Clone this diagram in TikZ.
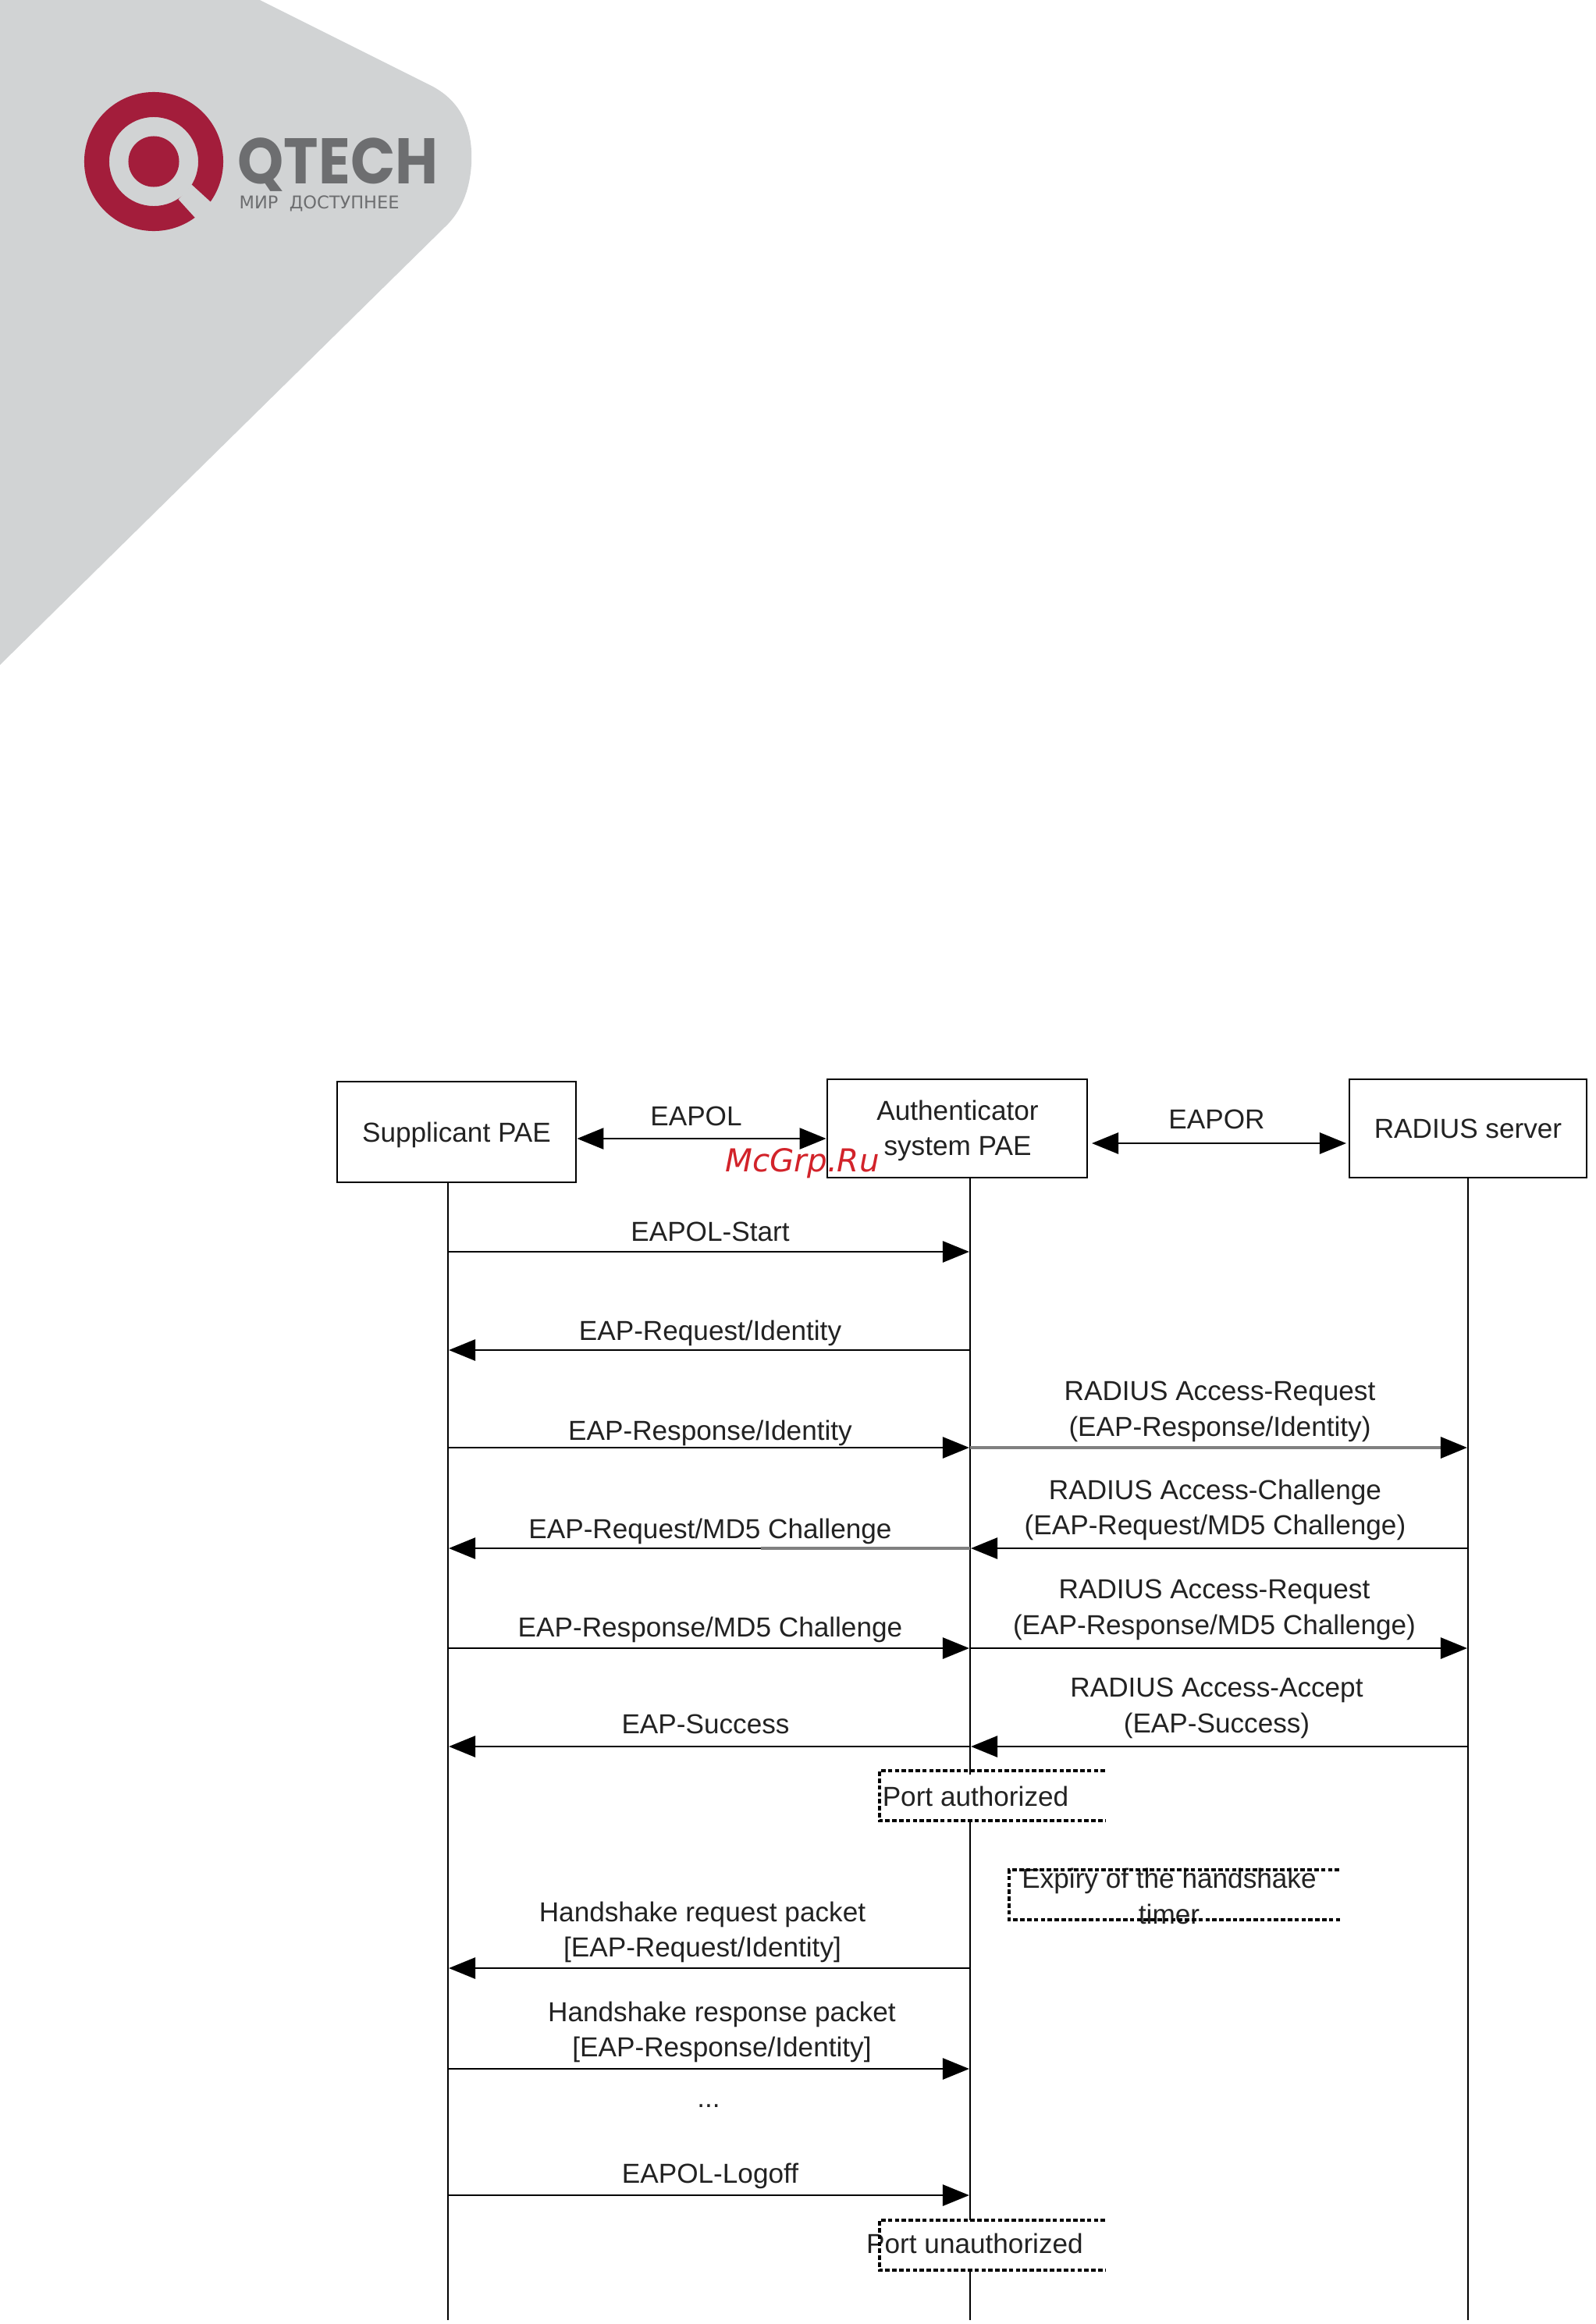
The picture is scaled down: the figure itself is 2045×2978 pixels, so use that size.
\documentclass[tikz,border=0pt]{standalone}
\usepackage{fontspec}
\usepackage{xcolor}
\setmainfont{Liberation Sans}
\newfontfamily\logofont{Poppins}
\newfontfamily\sloganfont{DejaVu Sans}
\newfontfamily\stampfont{DejaVu Sans}
\usetikzlibrary{arrows.meta,positioning,calc}
\definecolor{QtechGrey}{HTML}{D1D3D4}
\definecolor{QtechRed}{HTML}{A31D3B}
\definecolor{QtechText}{HTML}{6D6E70}
\definecolor{DiagramInk}{HTML}{222222}
\definecolor{StampRed}{HTML}{D2232A}
\definecolor{FadedLine}{HTML}{808080}

\begin{document}
\begin{tikzpicture}[
  x=0.01cm, y=-0.01cm,
  every node/.style={font=\fontsize{10}{13}\selectfont, text=DiagramInk, align=center, inner sep=0pt},
  party/.style={draw=black, line width=0.75pt, fill=white},
  lifeline/.style={draw=black, line width=0.75pt},
  arrow/.style={-{Triangle[length=3.4mm,width=2.7mm,color=black]}, draw=black, line width=0.8pt, shorten >=0.3pt},
  biarrow/.style={{Triangle[length=3.4mm,width=2.7mm]}-{Triangle[length=3.4mm,width=2.7mm]}, draw=black, line width=0.8pt},
  openbox/.style={draw=black, line width=0.95pt, dash pattern=on 1.6pt off 0.9pt}
]
\useasboundingbox (0,0) rectangle (2045,2978);

% corner and logo
\fill[QtechGrey] (0,0) -- (333,0) -- (551,109) .. controls (595,131) and (606,170) .. (604,210) .. controls (602,245) and (590,272) .. (571,290) -- (0,852) -- cycle;
\fill[QtechRed, even odd rule] (197,207) circle (0.89cm) (197,207) circle (0.57cm);
\fill[QtechRed] (197,207) circle (0.325cm);
\fill[QtechGrey] (245.5,236.5) -- (280,268) -- (260,290) -- (228.6,255.5) -- cycle;
\node[font=\logofont\bfseries\fontsize{23.5}{23.5}\selectfont, text=QtechText, anchor=west] (brand) at (304,211) {\scalebox{0.91}[1]{QTECH}};
\node[font=\sloganfont\fontsize{6.4}{6.4}\selectfont, text=QtechText, anchor=west] (slogan) at (306,261) {МИР\ \ ДОСТУПНЕЕ};

% parties
\node[party, minimum width=3.06cm, minimum height=1.29cm] (supplicant) at (585,1450.5) {};
\node[party, minimum width=3.33cm, minimum height=1.26cm] (authenticator) at (1226.5,1446) {};
\node[party, minimum width=3.04cm, minimum height=1.26cm] (radius) at (1881,1446) {RADIUS server};
\node (supplabel) at (585,1454) {Supplicant PAE};
\node (authlabel) at (1227,1449) {Authenticator\\system PAE};

\node (eapol) at (892,1430) {EAPOL};
\node (eapor) at (1559,1434) {EAPOR};
\coordinate (eapolline) at (0,1459);
\draw[biarrow] (supplicant.east |- eapolline) -- (authenticator.west |- eapolline);
\coordinate (eaporl) at (1399,1465);
\coordinate (eaporr) at (1725,1465);
\draw[biarrow] (eaporl) -- (eaporr);

% lifelines
\coordinate (suptop) at (574,1515);
\coordinate (supend) at (574,2973);
\coordinate (authtop) at (1243,1509);
\coordinate (authend) at (1243,2973);
\coordinate (radtop) at (1881,1509);
\coordinate (radend) at (1881,2973);
\coordinate (authA) at (1243,2274);
\coordinate (authB) at (1243,2333);
\coordinate (authC) at (1243,2845);
\coordinate (authD) at (1243,2909);
\draw[lifeline] (suptop) -- (supend);
\draw[lifeline] (radtop) -- (radend);
\draw[lifeline] (authtop) -- (authA);
\draw[lifeline] (authB) -- (authC);
\draw[lifeline] (authD) -- (authend);

% message levels
\coordinate (start) at (0,1604);
\coordinate (reqid) at (0,1730);
\coordinate (respid) at (0,1855);
\coordinate (reqmd) at (0,1984);
\coordinate (respmd) at (0,2112);
\coordinate (success) at (0,2238);
\coordinate (hsreq) at (0,2522);
\coordinate (hsresp) at (0,2651);
\coordinate (logoff) at (0,2813);
\coordinate (fadeend) at (975,1984);

\draw[arrow] (suptop |- start) -- (authtop |- start);
\draw[arrow] (authtop |- reqid) -- (suptop |- reqid);
\draw[arrow] (suptop |- respid) -- (authtop |- respid);
\draw[arrow, draw=FadedLine, line width=1pt] (authtop |- respid) -- (radtop |- respid);
\draw[arrow] (radtop |- reqmd) -- (authtop |- reqmd);
\draw[arrow] (authtop |- reqmd) -- (suptop |- reqmd);
\draw[draw=FadedLine, line width=1pt] (authtop |- reqmd) -- (fadeend);
\draw[arrow] (suptop |- respmd) -- (authtop |- respmd);
\draw[arrow] (authtop |- respmd) -- (radtop |- respmd);
\draw[arrow] (radtop |- success) -- (authtop |- success);
\draw[arrow] (authtop |- success) -- (suptop |- success);
\draw[arrow] (authtop |- hsreq) -- (suptop |- hsreq);
\draw[arrow] (suptop |- hsresp) -- (authtop |- hsresp);
\draw[arrow] (suptop |- logoff) -- (authtop |- logoff);

% message labels
\node (startlabel) at (910,1578) {EAPOL-Start};
\node (reqidlabel) at (910,1708) {EAP-Request/Identity};
\node (respidlabel) at (910,1836) {EAP-Response/Identity};
\node (radreqlabel) at (1563,1809) {RADIUS Access-Request\\(EAP-Response/Identity)};
\node (reqmdlabel) at (910,1962) {EAP-Request/MD5 Challenge};
\node (radchallabel) at (1557,1935) {RADIUS Access-Challenge\\(EAP-Request/MD5 Challenge)};
\node (respmdlabel) at (910,2088) {EAP-Response/MD5 Challenge};
\node (radreq2label) at (1556,2063) {RADIUS Access-Request\\(EAP-Response/MD5 Challenge)};
\node (radacclabel) at (1559,2189) {RADIUS Access-Accept\\(EAP-Success)};
\node (successlabel) at (904,2209) {EAP-Success};
\node (hsreqlabel) at (900,2476) {Handshake request packet\\{}[EAP-Request/Identity]};
\node (hsresplabel) at (925,2604) {Handshake response packet\\{}[EAP-Response/Identity]};
\node (dots) at (908,2699) {...};
\node (logofflabel) at (910,2788) {EAPOL-Logoff};

% port states
\node (portauth) at (1250,2302) {Port authorized};
\node (portunauth) at (1249,2875) {Port unauthorized};
\node (expiry) at (1498,2430) {Expiry of the handshake\\timer};
\coordinate (pa1) at (1416,2269);
\coordinate (pa2) at (1127,2269);
\coordinate (pa3) at (1127,2333);
\coordinate (pa4) at (1416,2333);
\draw[openbox] (pa1) -- (pa2) -- (pa3) -- (pa4);
\coordinate (pu1) at (1416,2845);
\coordinate (pu2) at (1127,2845);
\coordinate (pu3) at (1127,2909);
\coordinate (pu4) at (1416,2909);
\draw[openbox] (pu1) -- (pu2) -- (pu3) -- (pu4);
\coordinate (ex1) at (1716,2396);
\coordinate (ex2) at (1293,2396);
\coordinate (ex3) at (1293,2460);
\coordinate (ex4) at (1720,2460);
\draw[openbox] (ex1) -- (ex2) -- (ex3) -- (ex4);

\node[font=\stampfont\itshape\fontsize{11.5}{11.5}\selectfont, text=StampRed] (stamp) at (1028,1491) {McGrp.Ru};
\end{tikzpicture}
\end{document}
